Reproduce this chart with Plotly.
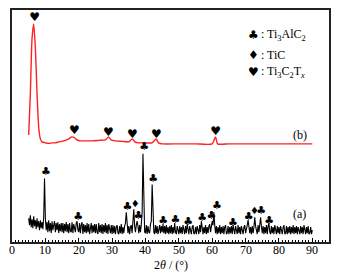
import plotly.graph_objects as go

# ---- data (intensity in arbitrary units) ----
a_start, a_step = 5.0, 0.25
a_vals = [
    24,17,27,15,23,14,26,16,22,13,24,15,21,12,22,14,20,13,25,64,
    24,12,20,10,22,11,19,9,21,12,17,21,10,19,12,20,9,18,11,19,
    10,19,9,18,11,20,10,18,9,19,11,10,20,9,18,11,10,19,21,12,
    10,19,9,17,20,8,18,10,17,9,19,10,18,8,17,19,9,17,10,18,
    9,18,10,8,19,10,17,9,18,8,17,10,19,9,17,8,18,10,9,17,
    8,17,9,16,8,15,17,9,8,16,9,18,8,15,9,16,19,30,16,9,
    16,8,15,17,9,19,33,16,10,17,21,16,9,17,10,18,30,89,22,10,
    9,17,8,16,10,9,18,21,58,19,10,8,17,9,16,8,15,17,9,16,
    10,18,9,16,8,17,9,15,8,16,9,17,8,15,9,19,10,8,16,9,
    8,16,9,15,8,17,9,8,16,9,18,10,8,16,9,8,15,17,8,9,
    15,8,16,9,8,17,10,21,16,8,15,9,17,8,15,9,16,18,10,17,
    21,17,30,17,9,16,8,15,9,17,8,15,9,16,8,15,17,8,9,16,
    8,15,9,16,8,17,10,8,16,9,8,17,9,15,8,16,9,8,15,17,
    9,16,17,22,16,9,15,8,16,9,15,25,16,9,8,17,10,17,25,16,
    9,16,8,15,9,17,8,16,19,10,8,16,9,15,8,17,9,8,16,9,
    15,8,16,9,8,15,17,8,9,16,8,15,9,16,8,15,9,17,8,15,
    9,16,8,15,9,8,16,9,15,8,17,9,8,15,9,16,8,9,15,8,
    12,
]
a_x = [a_start + a_step * i for i in range(len(a_vals))]

b_x = [5, 5.5, 6.0, 6.5, 7.0, 7.5, 8.0, 8.5, 9.0, 10, 11, 12, 13, 14, 15, 16, 17,
       17.8, 18.6, 19.5, 20.5, 22, 24, 26, 28, 28.9, 29.7, 31, 33, 35, 36.1, 36.8,
       38, 40, 42, 43.2, 43.9, 45, 50, 55, 60, 61.0, 61.6, 65, 70, 80, 90]
b_y = [108, 150, 205, 220, 196, 150, 116, 104, 101, 100, 99.5, 100, 100, 101, 101.5, 102.5, 104,
       106, 105.5, 103, 102, 102, 102, 102.5, 103, 106, 103, 102, 101.5, 101, 104, 101,
       100, 100, 100, 104, 100, 99, 99, 99, 99, 106, 99, 99, 99, 99, 99]

heart_x = [6.8, 18.7, 28.9, 36.1, 43.3, 61.0]
heart_y = [226, 112, 110, 108, 108, 111]
club_x = [10.2, 19.8, 34.6, 37.9, 39.6, 42.3, 45.3, 49.0, 52.8, 57.0, 59.8, 61.4, 66.2, 70.9, 74.7, 77.1]
club_y = [70, 24.7, 35.3, 26, 95.3, 63.7, 21, 22, 20.3, 23.7, 26, 36, 19.3, 24.7, 31, 21.3]
diam_x = [36.9, 72.7]
diam_y = [37.7, 31]

x_ticks = [0, 10, 20, 30, 40, 50, 60, 70, 80, 90]

SERIF = "Liberation Serif"

fig = go.Figure()
fig.add_trace(go.Scatter(x=a_x, y=a_vals, mode="lines",
                         line=dict(color="black", width=1.1), hoverinfo="skip"))
fig.add_trace(go.Scatter(x=b_x, y=b_y, mode="lines",
                         line=dict(color="#ff2020", width=1.4, shape="spline", smoothing=0.6),
                         hoverinfo="skip"))
for xs, ys, ch, sz in [(heart_x, heart_y, "♥", 12), (club_x, club_y, "♣", 11), (diam_x, diam_y, "♦", 10)]:
    fig.add_trace(go.Scatter(x=xs, y=ys, mode="text", text=[ch] * len(xs),
                             textfont=dict(family="DejaVu Sans", size=sz, color="black"),
                             hoverinfo="skip"))

legend_rows = [
    (209, "♣", ": Ti<sub>3</sub>AlC<sub>2</sub>"),
    (189, "♦", ": TiC"),
    (171, "♥", ": Ti<sub>3</sub>C<sub>2</sub>T<sub><i>x</i></sub>"),
]
for yv, sym, txt in legend_rows:
    fig.add_annotation(x=72.4, y=yv, xref="x", yref="y", text=sym, showarrow=False,
                       xanchor="center", yanchor="middle",
                       font=dict(family="DejaVu Sans", size=12, color="black"))
    fig.add_annotation(x=74.0, y=yv, xref="x", yref="y", text=txt, showarrow=False,
                       xanchor="left", yanchor="middle",
                       font=dict(family=SERIF, size=12, color="black"))
fig.add_annotation(x=86.3, y=108, xref="x", yref="y", text="(b)", showarrow=False,
                   font=dict(family=SERIF, size=12, color="black"))
fig.add_annotation(x=86.3, y=28, xref="x", yref="y", text="(a)", showarrow=False,
                   font=dict(family=SERIF, size=12, color="black"))

# tick labels placed close under the axis, as in the reference
for v in x_ticks:
    fig.add_annotation(x=v, y=-0.035, xref="x", yref="paper", text=str(v), showarrow=False,
                       xanchor="center", yanchor="middle",
                       font=dict(family=SERIF, size=12, color="black"))
fig.add_annotation(x=0.5, y=-0.099, xref="paper", yref="paper", text="2<i>θ</i> / (°)",
                   showarrow=False, xanchor="center", yanchor="middle",
                   font=dict(family=SERIF, size=12, color="black"))

fig.update_layout(
    width=339, height=276,
    margin=dict(l=12, r=8, t=8, b=34),
    paper_bgcolor="white", plot_bgcolor="white",
    showlegend=False,
    xaxis=dict(range=[0, 95], tickvals=x_ticks, showticklabels=False,
               ticks="inside", ticklen=4, tickwidth=1, tickcolor="black",
               minor=dict(ticks="inside", ticklen=2, dtick=1, tickcolor="black"),
               showline=True, linecolor="#222", linewidth=2, mirror=True,
               showgrid=False, zeroline=False),
    yaxis=dict(range=[0, 234], showticklabels=False, ticks="",
               showline=True, linecolor="#222", linewidth=2, mirror=True,
               showgrid=False, zeroline=False),
)

fig.write_html("out.html", config={"displayModeBar": False},
               post_script="document.body.style.margin='0';")
